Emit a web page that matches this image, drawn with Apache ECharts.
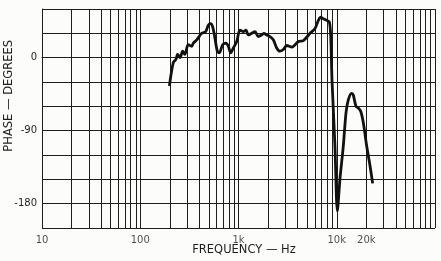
<!DOCTYPE html>
<html>
<head>
<meta charset="utf-8">
<script src="https://cdn.jsdelivr.net/npm/echarts@6/dist/echarts.min.js"></script>
<style>
html,body{margin:0;padding:0;background:#fcfcfa;}
#c{width:441px;height:261px;}
</style>
</head>
<body>
<div id="c"></div>
<script>
// Phase response data (frequency in Hz, phase in degrees)
var freqHz = [198,217,231,240,254,270,284,308,334,347,376,422,463,493,520,546,576,609,638,690,746,788,833,886,959,1036,1119,1192,1258,1361,1471,1592,1722,1818,1937,2094,2262,2448,2645,2858,3095,3500,4070,4570,5350,6010,6500,6870,7300,7900,8400,8670,8950,9590,10140,10790,11660,12420,13110,14190,14730,15700,16570,17530,18630,20170,21790,23200];
var phaseDeg = [-35,-6,-2,4,0,8,4,16,14,18,22,30,32,40,42,38,24,8,6,16,18,14,6,12,20,34,32,34,28,30,32,26,28,30,28,26,22,12,8,10,15,13,20,21,30,36,46,50,48,46,44,28,-28,-109,-189,-149,-109,-68,-52,-44,-46,-60,-62,-66,-80,-109,-133,-155];

// Axis ticks and labels
var xTickValues = [10, 100, 1000, 10000, 20000];
var xTickLabels = ['10', '100', '1k', '10k', '20k'];
var yLabelValues = [0, -90, -180];
var decades = [10, 100, 1000, 10000];
var decadeSteps = [1,2,3,4,5,6,7,8,9];
var xMin = 10, xMax = 100000;
var yMin = -210, yMax = 60, yStep = 30;

var gridX = [];
decades.forEach(function(d){ decadeSteps.forEach(function(s){ gridX.push(d*s); }); });
gridX.push(xMax);

var curve = freqHz.map(function(f,i){ return [f, phaseDeg[i]]; });
var labelPts = xTickValues.map(function(v){ return [v, yMin]; });

var FONT = 'DejaVu Sans';
var INK = '#1e1e1e';

var chart = echarts.init(document.getElementById('c'), null, {renderer:'canvas'});
chart.setOption({
  backgroundColor: '#fcfcfa',
  animation: false,
  grid: {left: 42, right: 6, top: 9, bottom: 33},
  xAxis: {
    type: 'log', logBase: 10, min: xMin, max: xMax,
    axisLine: {show: true, lineStyle: {color: INK, width: 1}},
    axisTick: {show: false},
    axisLabel: {show: false},
    splitLine: {show: false}
  },
  yAxis: {
    type: 'value', min: yMin, max: yMax, interval: yStep,
    axisLine: {show: true, lineStyle: {color: INK, width: 1}},
    axisTick: {show: false},
    axisLabel: {
      fontFamily: FONT, fontSize: 10, color: INK, margin: 5,
      formatter: function(v){ return yLabelValues.indexOf(v) >= 0 ? String(v) : ''; }
    },
    splitLine: {show: true, lineStyle: {color: INK, width: 1}}
  },
  graphic: [
    {type:'text', left: 3, top: 40, rotation: Math.PI/2, originX: 0, originY: 0,
     style:{text:'PHASE — DEGREES', fontFamily: FONT, fontSize: 11.5, fill: INK}},
    {type:'text', x: 244, y: 250,
     style:{text:'FREQUENCY — Hz', fontFamily: FONT, fontSize: 11.5, fill: INK, align:'center', verticalAlign:'middle'}}
  ],
  series: [
    {
      type: 'line', data: curve, showSymbol: false, symbol: 'none', smooth: 0.3,
      lineStyle: {color: '#111', width: 2.8}, z: 5,
      markLine: {
        silent: true, symbol: 'none', animation: false,
        label: {show: false},
        lineStyle: {color: INK, width: 1, type: 'solid'},
        data: gridX.map(function(v){ return {xAxis: v}; })
      }
    },
    {
      type: 'scatter', data: labelPts, symbolSize: 0.01, silent: true,
      label: {
        show: true, position: 'bottom', distance: 7,
        fontFamily: FONT, fontSize: 10, color: INK,
        formatter: function(p){ return xTickLabels[p.dataIndex]; }
      }
    }
  ]
});
</script>
</body>
</html>
